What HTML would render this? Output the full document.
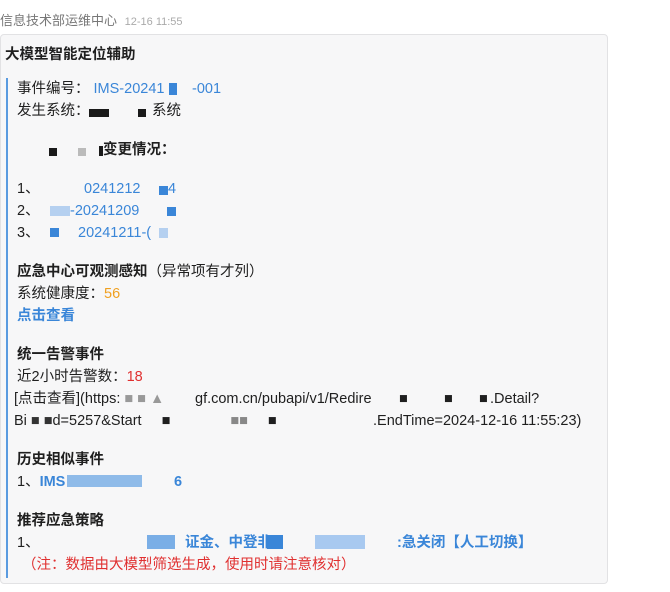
<!DOCTYPE html>
<html><head><meta charset="utf-8"><style>
body{margin:0;width:670px;height:592px;background:#fff;position:relative;overflow:hidden;font-family:"Liberation Sans","Noto Sans CJK SC",sans-serif;}
.t{position:absolute;white-space:nowrap;font-size:14.5px;line-height:20px;color:#1f1f1f;}
.b{font-weight:bold;}
.l{color:#3a86d8;}
.r{position:absolute;}
.a{position:absolute;}
</style></head><body>
<div class="t" style="left:0;top:11px;font-size:13px;color:#777">信息技术部运维中心 <span style="font-size:11px;color:#aaa;margin-left:4px">12-16 11:55</span></div>
<div style="position:absolute;left:0;top:34px;width:606px;height:548px;background:#f7f7f8;border:1px solid #e2e2e4;border-radius:4px"></div>
<div style="position:absolute;left:6px;top:78px;width:2px;height:500px;background:#5a9be0"></div>
<div class="t b" style="left:5px;top:45px">大模型智能定位辅助</div>
<div class="t" style="left:17px;top:79px">事件编号：<span class="l">&nbsp;IMS-20241</span><span class="r" style="left:152px;top:4px;width:8px;height:12px;background:#3a86d8"></span><span class="l a" style="left:175px">-001</span></div>
<div class="t" style="left:17px;top:101px">发生系统：<span class="r" style="left:72px;top:8px;width:20px;height:8px;background:#1a1a1a"></span><span class="r" style="left:121px;top:8px;width:8px;height:8px;background:#1a1a1a"></span><span class="a" style="left:135px">系统</span></div>
<div class="t b" style="left:17px;top:140px"><span class="r" style="left:32px;top:8px;width:8px;height:8px;background:#1a1a1a"></span><span class="r" style="left:61px;top:8px;width:8px;height:8px;background:#bbb"></span><span class="r" style="left:82px;top:6px;width:4px;height:10px;background:#1a1a1a"></span><span class="a" style="left:86px">变更情况：</span></div>
<div class="t" style="left:17px;top:179px">1、<span class="l a" style="left:67px">0241212</span><span class="r" style="left:142px;top:7px;width:9px;height:9px;background:#3a86d8"></span><span class="l a" style="left:151px">4</span></div>
<div class="t" style="left:17px;top:201px">2、<span class="r" style="left:33px;top:5px;width:20px;height:10px;background:#b5d0f0"></span><span class="l a" style="left:53px">-20241209</span><span class="r" style="left:150px;top:6px;width:9px;height:9px;background:#3a86d8"></span></div>
<div class="t" style="left:17px;top:223px">3、<span class="r" style="left:33px;top:5px;width:9px;height:9px;background:#3a86d8"></span><span class="l a" style="left:61px">20241211-(</span><span class="r" style="left:142px;top:5px;width:9px;height:10px;background:#b5d0f0"></span></div>
<div class="t b" style="left:17px;top:262px">应急中心可观测感知<span style="font-weight:normal">（异常项有才列）</span></div>
<div class="t" style="left:17px;top:284px">系统健康度：<span style="color:#f0a020">56</span></div>
<div class="t b l" style="left:17px;top:306px">点击查看</div>
<div class="t b" style="left:17px;top:345px">统一告警事件</div>
<div class="t" style="left:17px;top:367px">近2小时告警数：<span style="color:#e03030">18</span></div>
<div class="t" style="left:14px;top:389px">[点击查看](https: <span style="color:#999">■ ■ ▲</span><span class="a" style="left:181px">gf.com.cn/pubapi/v1/Redire</span><span class="a" style="left:385px">■</span><span class="a" style="left:430px">■</span><span class="a" style="left:465px">■</span><span class="a" style="left:476px">.Detail?</span></div>
<div class="t" style="left:14px;top:411px">Bi <span style="color:#333">■ ■</span>d=5257&amp;Start <span style="margin-left:16px">■</span><span style="margin-left:60px;color:#888">■■</span><span style="margin-left:20px">■</span><span class="a" style="left:359px">.EndTime=2024-12-16 11:55:23)</span></div>
<div class="t b" style="left:17px;top:450px">历史相似事件</div>
<div class="t" style="left:17px;top:472px">1、<span class="l b">IMS</span><span class="r" style="left:50px;top:3px;width:75px;height:12px;background:#8fbbe9"></span><span class="l b a" style="left:157px">6</span></div>
<div class="t b" style="left:17px;top:511px">推荐应急策略</div>
<div class="t" style="left:17px;top:533px">1、<span class="r" style="left:130px;top:2px;width:28px;height:14px;background:#7aaee6"></span><span class="r" style="left:250px;top:2px;width:16px;height:14px;background:#3a86d8"></span><span class="r" style="left:298px;top:2px;width:50px;height:14px;background:#a8c9f0"></span><span class="l b a" style="left:168px">证金、中登非</span><span class="l b a" style="left:380px">:急关闭【人工切换】</span></div>
<div class="t" style="left:22px;top:555px;color:#e03030">（注：数据由大模型筛选生成，使用时请注意核对）</div>
</body></html>
